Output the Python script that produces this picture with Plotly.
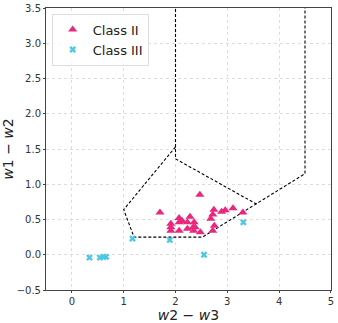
import plotly.graph_objects as go

# Class II points (w2-w3, w1-w2)
c2_x = [2.47, 1.70, 2.74, 3.11, 2.96, 2.89, 3.30, 2.72, 2.68, 2.75, 2.72, 2.48,
        2.07, 2.07, 1.91, 1.91, 1.91, 2.07, 2.28, 2.23, 2.36, 2.34, 2.23, 2.38,
        2.35, 2.13]
c2_y = [0.85, 0.60, 0.64, 0.66, 0.63, 0.61, 0.60, 0.57, 0.51, 0.41, 0.34, 0.32,
        0.52, 0.46, 0.44, 0.39, 0.34, 0.34, 0.54, 0.46, 0.46, 0.39, 0.37, 0.39,
        0.34, 0.48]

# Class III points
c3_x = [1.89, 3.31, 2.55, 1.17, 0.34, 0.54, 0.61, 0.66]
c3_y = [0.21, 0.46, 0.00, 0.23, -0.04, -0.04, -0.03, -0.03]

# boundary lines
b1_x = [2.0, 2.0, 3.56]
b1_y = [3.7, 1.36, 0.72]
b2_x = [2.0, 1.0, 1.2, 2.52, 4.5, 4.5]
b2_y = [1.53, 0.64, 0.25, 0.25, 1.15, 3.7]

x_ticks = [0, 1, 2, 3, 4, 5]
y_ticks = [-0.5, 0.0, 0.5, 1.0, 1.5, 2.0, 2.5, 3.0, 3.5]

PINK = "#e8287c"
CYAN = "#4fc8e6"

fig = go.Figure()
for bx, by in [(b1_x, b1_y), (b2_x, b2_y)]:
    fig.add_trace(
        go.Scatter(
            x=bx,
            y=by,
            mode="lines",
            showlegend=False,
            line=dict(color="black", width=1.1, dash="3px,2px")
        )
    )
fig.add_trace(
    go.Scatter(
        x=c2_x,
        y=c2_y,
        mode="markers",
        name="Class II",
        marker=dict(symbol="triangle-up", size=8, color=PINK)
    )
)
fig.add_trace(
    go.Scatter(
        x=c3_x,
        y=c3_y,
        mode="markers",
        name="Class III",
        marker=dict(symbol="x", size=6, color=CYAN, line=dict(width=0))
    )
)

axis_style = dict(
    showline=True,
    mirror=True,
    linecolor="#444",
    linewidth=1,
    showgrid=True,
    gridcolor="#dddddd",
    griddash="dot",
    gridwidth=1,
    zeroline=False,
    ticks="outside",
    ticklen=2,
    tickcolor="#444",
    automargin=False,
    tickfont=dict(size=10, color="#333", family="DejaVu Sans"),
)

fig.update_xaxes(
    range=[-0.5, 5.002],
    tickvals=x_ticks,
    ticktext=[str(v) for v in x_ticks],
    ticklabeloverflow="allow",
    title=dict(text="<i>w</i>2 − <i>w</i>3", font=dict(size=14, family="DejaVu Sans", color="#222"), standoff=0),
    **axis_style
)
fig.update_yaxes(
    range=[-0.5, 3.5],
    tickvals=y_ticks,
    ticktext=[f"{v:.1f}".replace("-", "−") for v in y_ticks],
    title=dict(text="<i>w</i>1 − <i>w</i>2", font=dict(size=14, family="DejaVu Sans", color="#222"), standoff=0),
    **axis_style
)

fig.update_layout(
    width=338,
    height=323,
    margin=dict(l=46, r=7, t=8, b=33),
    plot_bgcolor="white",
    paper_bgcolor="white",
    legend=dict(
        x=0.02,
        y=0.98,
        xanchor="left",
        yanchor="top",
        bgcolor="rgba(255,255,255,0.8)",
        bordercolor="#dddddd",
        borderwidth=1,
        font=dict(size=13, family="DejaVu Sans", color="#222"),
    ),
)

# drop the page's default body margin so the figure sits at the window corner
fig.write_html(
    "out.html",
    config={"displayModeBar": False},
    post_script="document.body.style.margin='0';",
)
